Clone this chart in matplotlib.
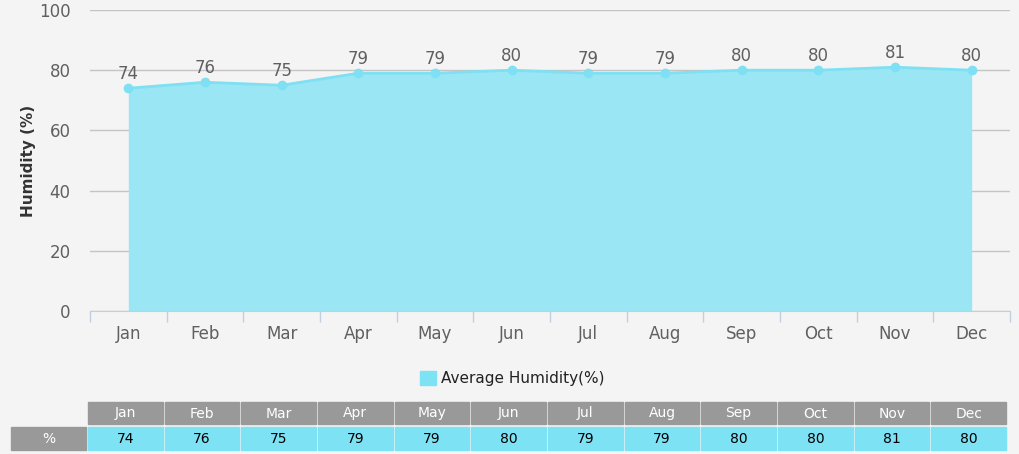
import matplotlib.pyplot as plt
from matplotlib.patches import Rectangle

months = ["Jan", "Feb", "Mar", "Apr", "May", "Jun", "Jul", "Aug", "Sep", "Oct", "Nov", "Dec"]
humidity = [74, 76, 75, 79, 79, 80, 79, 79, 80, 80, 81, 80]
y_ticks = [0, 20, 40, 60, 80, 100]
series_name = "Average Humidity(%)"
row_label = "%"

bg = "#f4f4f4"
fill_col = "#9ae6f4"
line_col = "#7ee0f2"
cell_col = "#7de2f4"
head_col = "#999999"

W, H = 1020, 454
fig = plt.figure(figsize=(W / 100, H / 100), dpi=100, facecolor=bg)
ax = fig.add_axes([90 / W, (H - 311) / H, 920 / W, 301 / H], facecolor=bg)

x = list(range(len(months)))
ax.fill_between(x, humidity, 0, color=fill_col, lw=0, zorder=2)
ax.plot(x, humidity, color=line_col, lw=2, marker="o", ms=6, zorder=3)
for i, v in enumerate(humidity):
    ax.text(i, v + 1.6, str(v), ha="center", va="bottom", fontsize=12, color="#606060", zorder=4)

ax.set_xlim(-0.5, len(months) - 0.5)
ax.set_ylim(0, 100)
ax.set_yticks(y_ticks)
ax.set_xticks(x)
ax.set_xticklabels(months)
ax.set_xticks([i - 0.5 for i in range(len(months) + 1)], minor=True)
ax.tick_params(axis="x", which="major", length=0, pad=10, labelsize=12, labelcolor="#606060")
ax.tick_params(axis="x", which="minor", length=8, color="#c0d0e0", width=1)
ax.tick_params(axis="y", length=0, pad=14, labelsize=12, labelcolor="#606060")
ax.grid(axis="y", color="#c4c4c4", lw=1, zorder=1)
ax.set_axisbelow(True)
for s in ["top", "right", "left"]:
    ax.spines[s].set_visible(False)
ax.spines["bottom"].set_color("#c0d0e0")
ax.set_ylabel("Humidity (%)", fontsize=11, color="#333333", fontweight="bold", labelpad=2)

# legend and data table drawn in pixel space
ov = fig.add_axes([0, 0, 1, 1], facecolor="none")
ov.set_xlim(0, W)
ov.set_ylim(H, 0)
ov.axis("off")

ov.add_patch(Rectangle((420, 371), 16, 14, color=cell_col))
ov.text(441, 378, series_name, va="center", ha="left", fontsize=11, color="#222222")

cw = 920 / len(months)
x0 = 88
for i, m in enumerate(months):
    cx = x0 + i * cw
    ov.add_patch(Rectangle((cx, 402), cw - 2, 22, color=head_col))
    ov.text(cx + (cw - 2) / 2, 413.5, m, ha="center", va="center", fontsize=10, color="white")
    ov.add_patch(Rectangle((cx, 427), cw - 2, 23, color=cell_col))
    ov.text(cx + (cw - 2) / 2, 439, str(humidity[i]), ha="center", va="center", fontsize=10, color="black")
ov.add_patch(Rectangle((11, 427), 75, 23, color=head_col))
ov.text(48.5, 439, row_label, ha="center", va="center", fontsize=10, color="white")

fig.savefig("out.png", dpi=100, facecolor=bg)
